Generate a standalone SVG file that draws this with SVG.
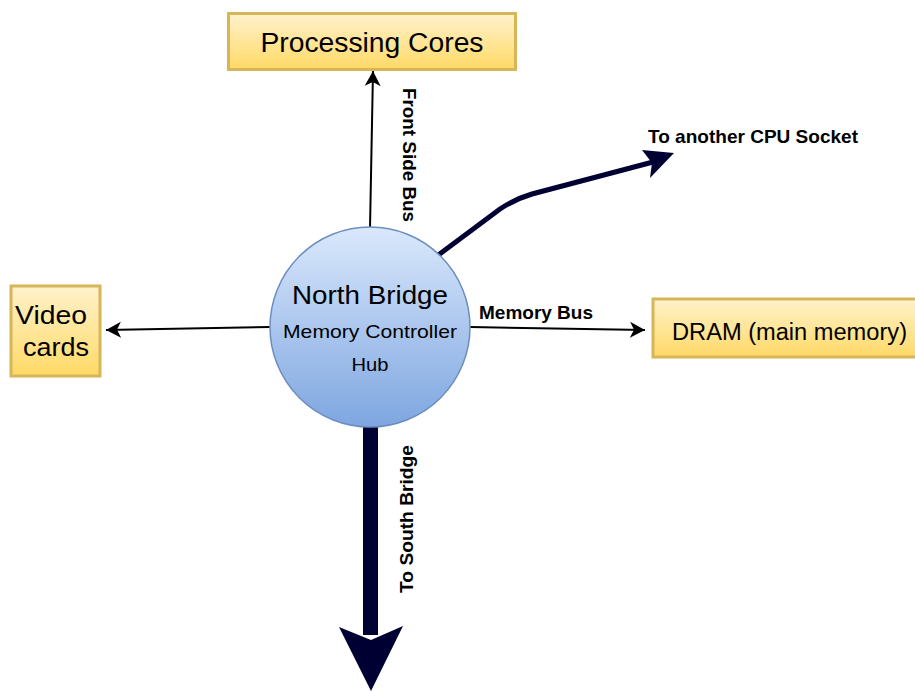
<svg xmlns="http://www.w3.org/2000/svg" width="915" height="691" viewBox="0 0 915 691">
  <defs>
    <linearGradient id="boxFill" x1="0" y1="0" x2="0" y2="1">
      <stop offset="0" stop-color="#fff2cc"/>
      <stop offset="1" stop-color="#ffd966"/>
    </linearGradient>
    <linearGradient id="hubFill" x1="0" y1="0" x2="0" y2="1">
      <stop offset="0" stop-color="#dae8fc"/>
      <stop offset="1" stop-color="#7ea6e0"/>
    </linearGradient>
    <marker id="arrow" markerUnits="userSpaceOnUse" markerWidth="20" markerHeight="20" viewBox="-16 -10 18 20" refX="0" refY="0" orient="auto">
      <path d="M0,0 L-15,-8 L-11,0 L-15,8 Z" fill="#000"/>
    </marker>
  </defs>
  <style>
    .box { fill: url(#boxFill); stroke: #d6b656; stroke-width: 3; }
    .hub { fill: url(#hubFill); stroke: #6c8ebf; stroke-width: 1.5; }
    .t { font-family: "Liberation Sans", Arial, sans-serif; fill: #000; text-anchor: middle; }
    .lbl { font-family: "Liberation Sans", Arial, sans-serif; font-weight: bold; fill: #000; }
    .thin { fill: none; stroke: #000; stroke-width: 2; marker-end: url(#arrow); }
    .thick { fill: none; stroke: #000033; stroke-width: 5; }
  </style>

  <rect width="915" height="691" fill="#fff"/>

  <!-- connectors -->
  <g id="connectors">
    <path class="thin" d="M370,228 L373,71"/>
    <path class="thin" d="M270,327 L106,330"/>
    <path class="thin" d="M470,327 L645,330"/>
    <path class="thick" d="M437,256 L500,209 Q515,199 532,194 L653,162"/>
    <polygon points="674,153 642,150 652,163 650,178" fill="#000033"/>
    <rect x="363" y="420" width="15" height="215" fill="#000033"/>
    <polygon points="339,627 371,691 403,626 371,640" fill="#000033"/>
  </g>

  <!-- connector labels -->
  <g id="labels">
    <text class="lbl" font-size="19" text-anchor="middle" textLength="134" lengthAdjust="spacingAndGlyphs" transform="translate(403,155) rotate(90)">Front Side Bus</text>
    <text class="lbl" font-size="18.5" x="648" y="143" textLength="210" lengthAdjust="spacingAndGlyphs">To another CPU Socket</text>
    <text class="lbl" font-size="19" x="479" y="319" textLength="114" lengthAdjust="spacingAndGlyphs">Memory Bus</text>
    <text class="lbl" font-size="19" text-anchor="middle" textLength="148" lengthAdjust="spacingAndGlyphs" transform="translate(413,519) rotate(-90)">To South Bridge</text>
  </g>

  <g id="processing-cores">
    <rect class="box" x="228.5" y="13.5" width="287" height="56"/>
    <text class="t" x="372" y="52" font-size="27" textLength="223" lengthAdjust="spacingAndGlyphs">Processing Cores</text>
  </g>

  <g id="video-cards">
    <rect class="box" x="11" y="286" width="89" height="90"/>
    <text class="t" x="51" y="324" font-size="25" textLength="72" lengthAdjust="spacingAndGlyphs">Video</text>
    <text class="t" x="56" y="356" font-size="25" textLength="66" lengthAdjust="spacingAndGlyphs">cards</text>
  </g>

  <g id="dram">
    <rect class="box" x="653" y="299" width="275" height="58"/>
    <text class="t" x="789.5" y="340" font-size="23" textLength="235" lengthAdjust="spacingAndGlyphs">DRAM (main memory)</text>
  </g>

  <g id="north-bridge">
    <circle class="hub" cx="370" cy="327" r="100"/>
    <text class="t" x="370" y="304" font-size="26" textLength="156" lengthAdjust="spacingAndGlyphs">North Bridge</text>
    <text class="t" x="370" y="338" font-size="19" textLength="174" lengthAdjust="spacingAndGlyphs">Memory Controller</text>
    <text class="t" x="370" y="371" font-size="19" textLength="37" lengthAdjust="spacingAndGlyphs">Hub</text>
  </g>
</svg>
